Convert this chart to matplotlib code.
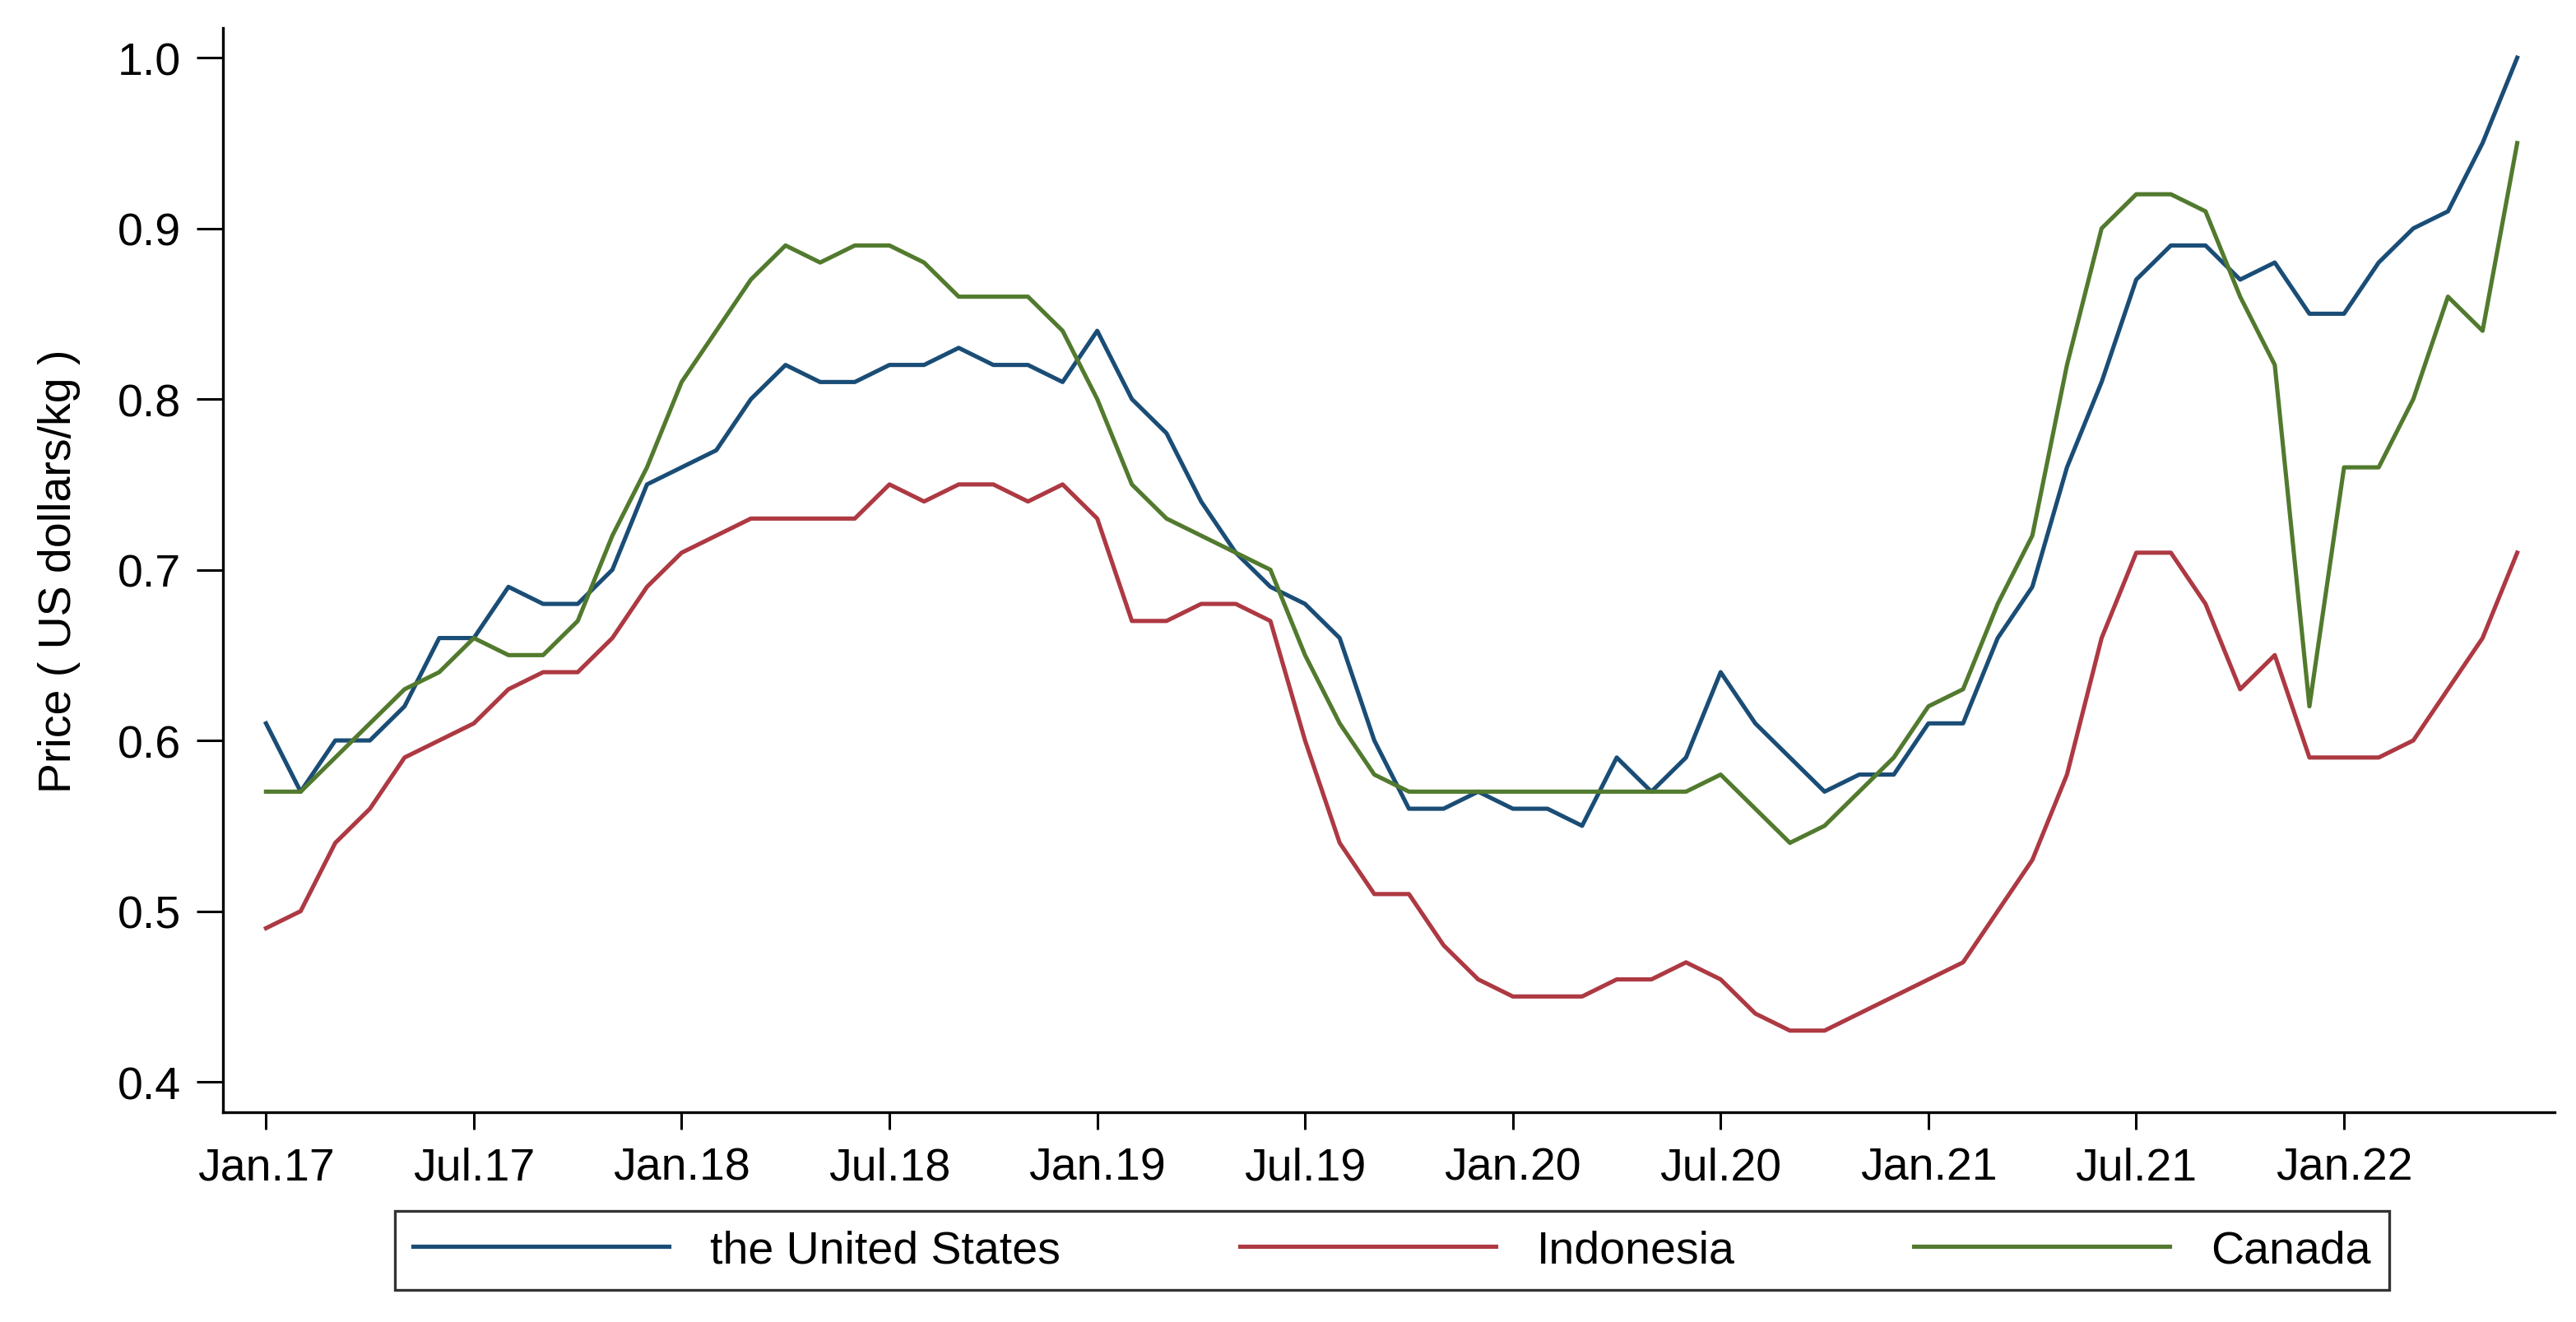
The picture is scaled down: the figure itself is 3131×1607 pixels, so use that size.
import matplotlib
matplotlib.use("Agg")
import matplotlib.pyplot as plt
import numpy as np

plt.rcParams["font.family"] = ["Liberation Sans", "DejaVu Sans"]

# monthly, Jan.17 .. Jun.22
TICK_LABELS = ["Jan.17", "Jul.17", "Jan.18", "Jul.18", "Jan.19", "Jul.19",
               "Jan.20", "Jul.20", "Jan.21", "Jul.21", "Jan.22"]

US = [0.61, 0.57, 0.60, 0.60, 0.62, 0.66, 0.66, 0.69, 0.68, 0.68, 0.70, 0.75,
      0.76, 0.77, 0.80, 0.82, 0.81, 0.81, 0.82, 0.82, 0.83, 0.82, 0.82, 0.81,
      0.84, 0.80, 0.78, 0.74, 0.71, 0.69, 0.68, 0.66, 0.60, 0.56, 0.56, 0.57,
      0.56, 0.56, 0.55, 0.59, 0.57, 0.59, 0.64, 0.61, 0.59, 0.57, 0.58, 0.58,
      0.61, 0.61, 0.66, 0.69, 0.76, 0.81, 0.87, 0.89, 0.89, 0.87, 0.88, 0.85,
      0.85, 0.88, 0.90, 0.91, 0.95, 1.00]

INDONESIA = [0.49, 0.50, 0.54, 0.56, 0.59, 0.60, 0.61, 0.63, 0.64, 0.64, 0.66, 0.69,
             0.71, 0.72, 0.73, 0.73, 0.73, 0.73, 0.75, 0.74, 0.75, 0.75, 0.74, 0.75,
             0.73, 0.67, 0.67, 0.68, 0.68, 0.67, 0.60, 0.54, 0.51, 0.51, 0.48, 0.46,
             0.45, 0.45, 0.45, 0.46, 0.46, 0.47, 0.46, 0.44, 0.43, 0.43, 0.44, 0.45,
             0.46, 0.47, 0.50, 0.53, 0.58, 0.66, 0.71, 0.71, 0.68, 0.63, 0.65, 0.59,
             0.59, 0.59, 0.60, 0.63, 0.66, 0.71]

CANADA = [0.57, 0.57, 0.59, 0.61, 0.63, 0.64, 0.66, 0.65, 0.65, 0.67, 0.72, 0.76,
          0.81, 0.84, 0.87, 0.89, 0.88, 0.89, 0.89, 0.88, 0.86, 0.86, 0.86, 0.84,
          0.80, 0.75, 0.73, 0.72, 0.71, 0.70, 0.65, 0.61, 0.58, 0.57, 0.57, 0.57,
          0.57, 0.57, 0.57, 0.57, 0.57, 0.57, 0.58, 0.56, 0.54, 0.55, 0.57, 0.59,
          0.62, 0.63, 0.68, 0.72, 0.82, 0.90, 0.92, 0.92, 0.91, 0.86, 0.82, 0.62,
          0.76, 0.76, 0.80, 0.86, 0.84, 0.95]

SERIES = [("the United States", US, "#1a4d76"),
          ("Indonesia", INDONESIA, "#ad3943"),
          ("Canada", CANADA, "#527a2e")]

FS = 40
LW = 3.7

fig = plt.figure(figsize=(31.31, 16.08), dpi=100)
ax = fig.add_axes([0.0866, 0.1586, 0.9051, 0.8196])

months = np.arange(len(US))
for name, vals, color in SERIES:
    ax.plot(months, vals, color=color, linewidth=LW, label=name)

ax.set_xlim(-1.24, 66.08)
ax.set_ylim(0.3822, 1.0174)
ax.set_xticks(months[::6])
ax.set_xticklabels(TICK_LABELS)
ax.set_yticks([0.4, 0.5, 0.6, 0.7, 0.8, 0.9, 1.0])
ax.set_yticklabels(["0.4", "0.5", "0.6", "0.7", "0.8", "0.9", "1.0"])

for side in ["top", "right"]:
    ax.spines[side].set_visible(False)
for side in ["left", "bottom"]:
    ax.spines[side].set_linewidth(2.4)
    ax.spines[side].set_color("black")

ax.tick_params(axis="y", length=23, width=2.2, pad=14, labelsize=FS)
ax.tick_params(axis="x", length=15, width=2.2, pad=15, labelsize=FS)

ax.set_ylabel("Price ( US dollars/kg )", fontsize=FS)
ax.yaxis.set_label_coords(-0.061, 0.5)

leg = fig.legend(
    loc="center",
    bbox_to_anchor=(480 / 3131, 0.021, 2424 / 3131, 0.066),
    mode="expand",
    ncol=3,
    fontsize=FS,
    frameon=True,
    fancybox=False,
    handlelength=5.6,
    handletextpad=0.9,
    borderpad=0.4,
    borderaxespad=0,
)
leg.get_frame().set_edgecolor("black")
leg.get_frame().set_linewidth(2.4)
for line in leg.get_lines():
    line.set_linewidth(LW)

fig.savefig("out.png", dpi=100)
